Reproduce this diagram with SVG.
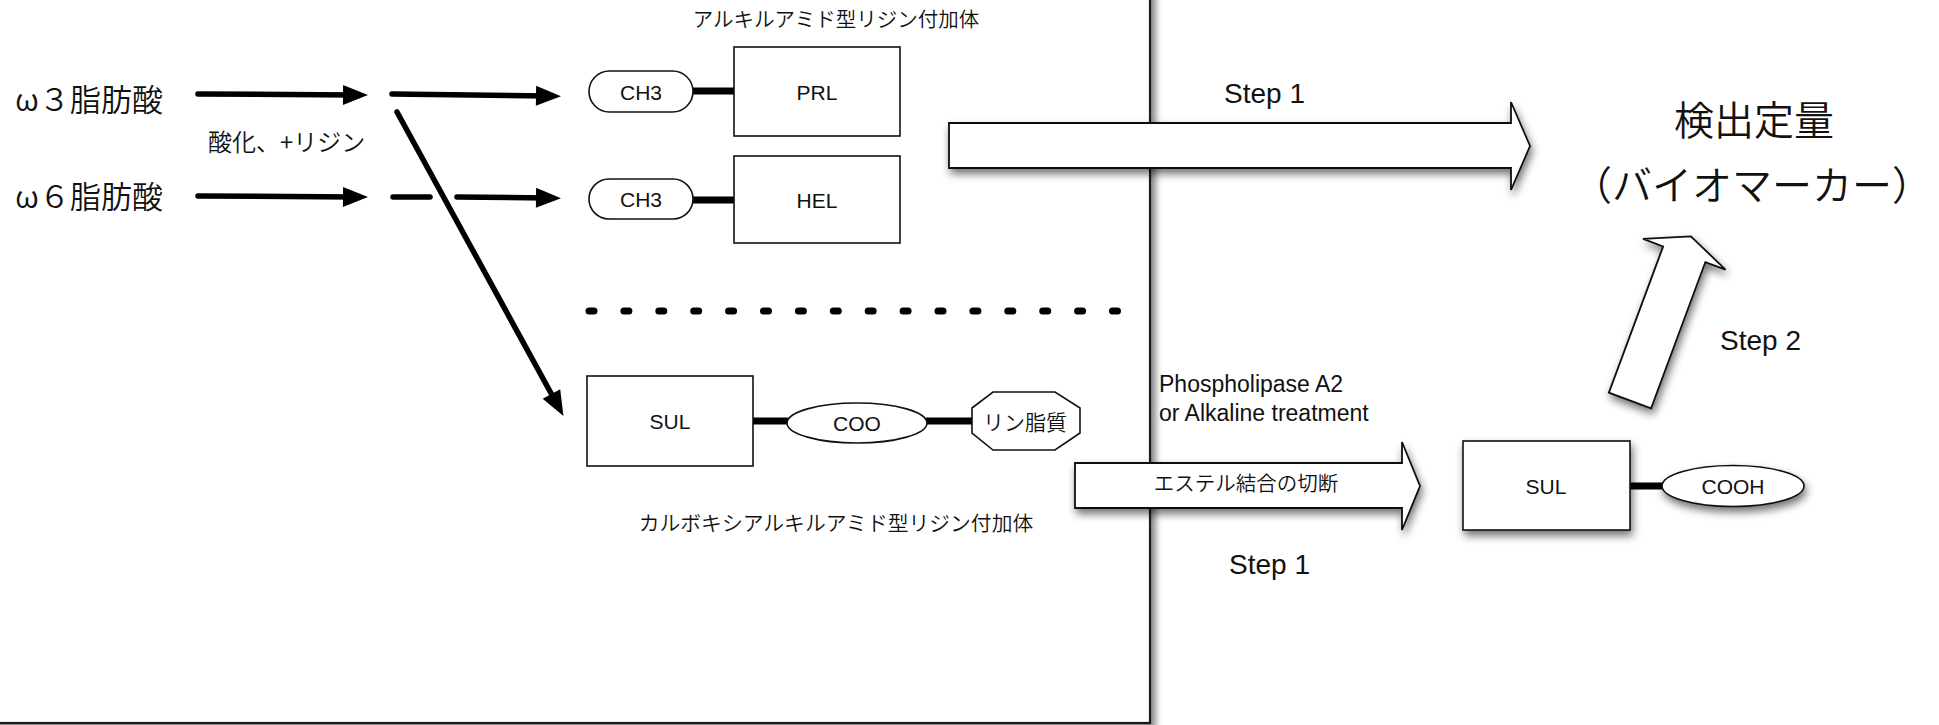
<svg xmlns="http://www.w3.org/2000/svg" width="1939" height="725" viewBox="0 0 1939 725">
<style>
.t{font-family:"Liberation Sans","Noto Sans CJK JP",sans-serif;fill:#111}
.jp{font-family:"Noto Sans CJK JP","Liberation Sans",sans-serif;fill:#111;font-weight:350}
.box{fill:#fff;stroke:#111;stroke-width:1.6}
.bond{stroke:#000;stroke-width:7;stroke-linecap:round;fill:none}
.arr{stroke:#000;stroke-width:5.5;fill:none;stroke-linecap:round}
.blk{fill:#fff;stroke:#111;stroke-width:1.8}
</style>
<defs>
<marker id="ah" markerUnits="userSpaceOnUse" markerWidth="26" markerHeight="22" refX="12" refY="11" orient="auto" overflow="visible">
<path d="M0,1 L25,11 L0,21 z" fill="#000"/>
</marker>
<filter id="sh" x="-20%" y="-20%" width="150%" height="160%">
<feDropShadow dx="2" dy="5" stdDeviation="4" flood-color="#000" flood-opacity="0.55"/>
</filter>
<filter id="fsh" x="-5%" y="-5%" width="115%" height="115%">
<feDropShadow dx="5" dy="5" stdDeviation="3" flood-color="#000" flood-opacity="0.45"/>
</filter>
</defs>
<rect width="1939" height="725" fill="#fff"/>

<g id="frame" filter="url(#fsh)">
<rect x="-10" y="-10" width="1160" height="733" fill="#fff" stroke="#1a1a1a" stroke-width="2.2"/>
</g>

<g id="omega3"><text class="jp" x="15" y="97" font-size="31" dominant-baseline="central">ω３脂肪酸</text></g>
<g id="omega6"><text class="jp" x="15" y="194" font-size="31" dominant-baseline="central">ω６脂肪酸</text></g>
<g id="label-oxid"><text class="jp" x="208" y="140" font-size="24" dominant-baseline="central">酸化、+リジン</text></g>

<g id="title-alkyl"><text class="jp" x="836" y="18" font-size="20.5" text-anchor="middle" dominant-baseline="central">アルキルアミド型リジン付加体</text></g>
<g id="title-carboxy"><text class="jp" x="836" y="522" font-size="20.8" text-anchor="middle" dominant-baseline="central">カルボキシアルキルアミド型リジン付加体</text></g>

<g id="connectors">
<path class="arr" d="M198,94 L355,95" marker-end="url(#ah)"/>
<path class="arr" d="M392,94 L548,96" marker-end="url(#ah)"/>
<path class="arr" d="M198,196 L355,197" marker-end="url(#ah)"/>
<path class="arr" d="M393,197 L430,197"/>
<path class="arr" d="M457,197 L548,198" marker-end="url(#ah)"/>
<path class="arr" d="M397,112 L557.2,404.5" marker-end="url(#ah)"/>
<path class="bond" d="M693,91 L734,91"/>
<path class="bond" d="M693,200 L734,200"/>
<path class="bond" d="M753,421 L787,421"/>
<path class="bond" d="M927,421 L972,421"/>
<path class="bond" d="M1630,486 L1662,486"/>
<path d="M589,311 L1118,311" stroke="#000" stroke-width="7" stroke-linecap="round" stroke-dasharray="5 29.9" fill="none"/>
</g>

<g id="ch3-1"><rect class="box" x="589" y="71" width="104" height="41" rx="20.5"/><text class="t" x="641" y="92" font-size="21" text-anchor="middle" dominant-baseline="central">CH3</text></g>
<g id="prl"><rect class="box" x="734" y="47" width="166" height="89"/><text class="t" x="817" y="92" font-size="21" text-anchor="middle" dominant-baseline="central">PRL</text></g>
<g id="ch3-2"><rect class="box" x="589" y="179" width="104" height="40" rx="20"/><text class="t" x="641" y="199" font-size="21" text-anchor="middle" dominant-baseline="central">CH3</text></g>
<g id="hel"><rect class="box" x="734" y="156" width="166" height="87"/><text class="t" x="817" y="200" font-size="21" text-anchor="middle" dominant-baseline="central">HEL</text></g>

<g id="sul-1"><rect class="box" x="587" y="376" width="166" height="90"/><text class="t" x="670" y="421" font-size="21" text-anchor="middle" dominant-baseline="central">SUL</text></g>
<g id="coo"><ellipse class="box" cx="857" cy="423" rx="70" ry="20"/><text class="t" x="857" y="423" font-size="21" text-anchor="middle" dominant-baseline="central">COO</text></g>
<g id="phospholipid"><polygon class="box" points="993,392 1055,392 1080,408 1080,433 1055,450 993,450 972,433 972,408"/><text class="jp" x="1025" y="421" font-size="21" text-anchor="middle" dominant-baseline="central">リン脂質</text></g>

<g id="step1-upper">
<polygon class="blk" filter="url(#sh)" points="949,123 1511,123 1511,102 1530,146 1511,190 1511,168 949,168"/>
<text class="t" x="1224" y="93" font-size="28" dominant-baseline="central">Step 1</text>
</g>

<g id="biomarker">
<text class="jp" x="1754" y="118" font-size="40" text-anchor="middle" dominant-baseline="central">検出定量</text>
<text class="jp" x="1752" y="183" font-size="40" text-anchor="middle" dominant-baseline="central">（バイオマーカー）</text>
</g>

<g id="step2" filter="url(#sh)">
<polygon class="blk" transform="translate(1630,400.5) rotate(-69.65)" points="0,-22.5 156,-22.5 156,-44 175,0 156,44 156,22.5 0,22.5"/>
</g>
<g id="step2-label"><text class="t" x="1720" y="340" font-size="28" dominant-baseline="central">Step 2</text></g>

<g id="enzyme-label">
<text class="t" x="1159" y="392" font-size="23">Phospholipase A2</text>
<text class="t" x="1159" y="421" font-size="23">or Alkaline treatment</text>
</g>

<g id="step1-lower">
<polygon class="blk" filter="url(#sh)" points="1075,463 1402,463 1402,442 1420,486 1402,530 1402,508 1075,508"/>
<text class="jp" x="1246" y="482" font-size="20.5" text-anchor="middle" dominant-baseline="central">エステル結合の切断</text>
<text class="t" x="1229" y="564" font-size="28" dominant-baseline="central">Step 1</text>
</g>

<g id="sul-2"><rect class="box" filter="url(#sh)" x="1463" y="441" width="167" height="89"/><text class="t" x="1546" y="486" font-size="21" text-anchor="middle" dominant-baseline="central">SUL</text></g>
<g id="cooh"><ellipse class="box" filter="url(#sh)" cx="1733" cy="486" rx="71" ry="20.5"/><text class="t" x="1733" y="486" font-size="21" text-anchor="middle" dominant-baseline="central">COOH</text></g>
</svg>
